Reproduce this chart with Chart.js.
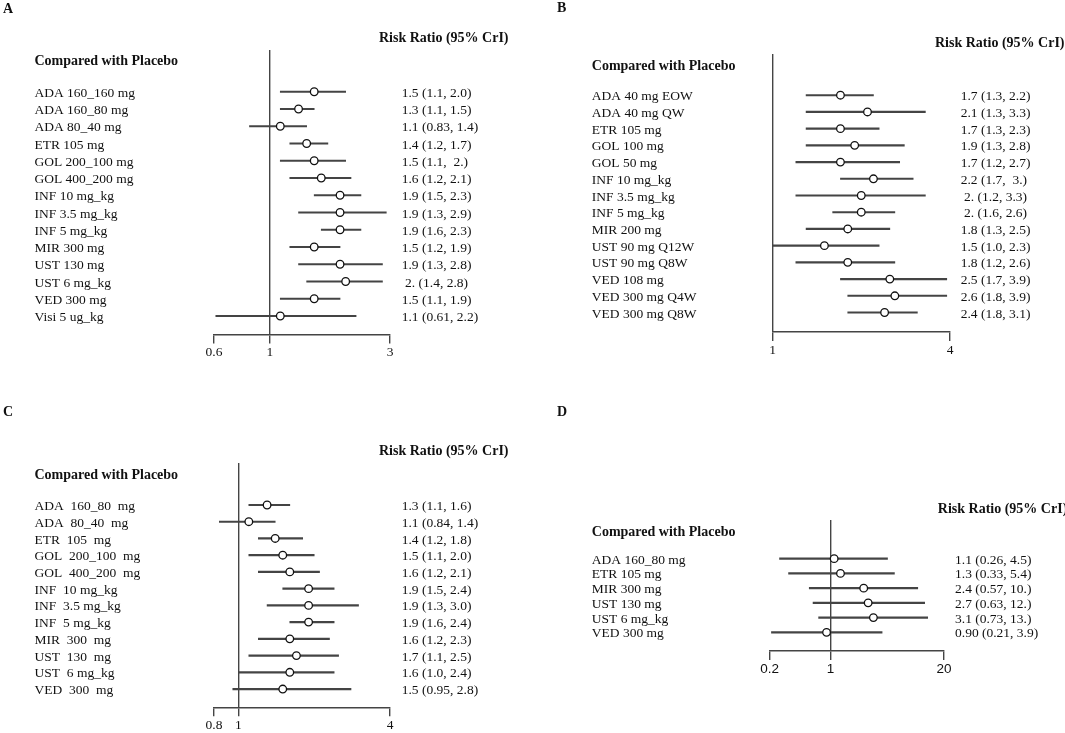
<!DOCTYPE html>
<html>
<head>
<meta charset="utf-8">
<script src="https://cdn.jsdelivr.net/npm/chart.js@4.4.1/dist/chart.umd.min.js"></script>
<style>
  body { margin: 0; background: #fff; }
  #wrap { position: relative; width: 1065px; height: 733px; }
  canvas { position: absolute; }
</style>
</head>
<body>
<div id="wrap">
  <canvas id="chartA" width="530" height="370" style="left:0;top:0"></canvas>
  <canvas id="chartB" width="535" height="370" style="left:530px;top:0"></canvas>
  <canvas id="chartC" width="530" height="363" style="left:0;top:370px"></canvas>
  <canvas id="chartD" width="535" height="363" style="left:530px;top:370px"></canvas>
</div>
<script>
// A
const namesA = ['ADA 160_160 mg', 'ADA 160_80 mg', 'ADA 80_40 mg', 'ETR 105 mg', 'GOL 200_100 mg', 'GOL 400_200 mg',
  'INF 10 mg_kg', 'INF 3.5 mg_kg', 'INF 5 mg_kg', 'MIR 300 mg', 'UST 130 mg', 'UST 6 mg_kg', 'VED 300 mg', 'Visi 5 ug_kg'];
const rrA = [1.5, 1.3, 1.1, 1.4, 1.5, 1.6, 1.9, 1.9, 1.9, 1.5, 1.9, 2.0, 1.5, 1.1];
const loA = [1.1, 1.1, 0.83, 1.2, 1.1, 1.2, 1.5, 1.3, 1.6, 1.2, 1.3, 1.4, 1.1, 0.61];
const hiA = [2.0, 1.5, 1.4, 1.7, 2.0, 2.1, 2.3, 2.9, 2.3, 1.9, 2.8, 2.8, 1.9, 2.2];
const textA = ['1.5 (1.1, 2.0)', '1.3 (1.1, 1.5)', '1.1 (0.83, 1.4)', '1.4 (1.2, 1.7)', '1.5 (1.1,  2.)', '1.6 (1.2, 2.1)',
  '1.9 (1.5, 2.3)', '1.9 (1.3, 2.9)', '1.9 (1.6, 2.3)', '1.5 (1.2, 1.9)', '1.9 (1.3, 2.8)', ' 2. (1.4, 2.8)', '1.5 (1.1, 1.9)', '1.1 (0.61, 2.2)'];
const xTicksA = [0.6, 1, 3];

// B
const namesB = ['ADA 40 mg EOW', 'ADA 40 mg QW', 'ETR 105 mg', 'GOL 100 mg', 'GOL 50 mg', 'INF 10 mg_kg', 'INF 3.5 mg_kg',
  'INF 5 mg_kg', 'MIR 200 mg', 'UST 90 mg Q12W', 'UST 90 mg Q8W', 'VED 108 mg', 'VED 300 mg Q4W', 'VED 300 mg Q8W'];
const rrB = [1.7, 2.1, 1.7, 1.9, 1.7, 2.2, 2.0, 2.0, 1.8, 1.5, 1.8, 2.5, 2.6, 2.4];
const loB = [1.3, 1.3, 1.3, 1.3, 1.2, 1.7, 1.2, 1.6, 1.3, 1.0, 1.2, 1.7, 1.8, 1.8];
const hiB = [2.2, 3.3, 2.3, 2.8, 2.7, 3.0, 3.3, 2.6, 2.5, 2.3, 2.6, 3.9, 3.9, 3.1];
const textB = ['1.7 (1.3, 2.2)', '2.1 (1.3, 3.3)', '1.7 (1.3, 2.3)', '1.9 (1.3, 2.8)', '1.7 (1.2, 2.7)', '2.2 (1.7,  3.)',
  ' 2. (1.2, 3.3)', ' 2. (1.6, 2.6)', '1.8 (1.3, 2.5)', '1.5 (1.0, 2.3)', '1.8 (1.2, 2.6)', '2.5 (1.7, 3.9)', '2.6 (1.8, 3.9)', '2.4 (1.8, 3.1)'];
const xTicksB = [1, 4];

// C
const namesC = ['ADA  160_80  mg', 'ADA  80_40  mg', 'ETR  105  mg', 'GOL  200_100  mg', 'GOL  400_200  mg', 'INF  10 mg_kg',
  'INF  3.5 mg_kg', 'INF  5 mg_kg', 'MIR  300  mg', 'UST  130  mg', 'UST  6 mg_kg', 'VED  300  mg'];
const rrC = [1.3, 1.1, 1.4, 1.5, 1.6, 1.9, 1.9, 1.9, 1.6, 1.7, 1.6, 1.5];
const loC = [1.1, 0.84, 1.2, 1.1, 1.2, 1.5, 1.3, 1.6, 1.2, 1.1, 1.0, 0.95];
const hiC = [1.6, 1.4, 1.8, 2.0, 2.1, 2.4, 3.0, 2.4, 2.3, 2.5, 2.4, 2.8];
const textC = ['1.3 (1.1, 1.6)', '1.1 (0.84, 1.4)', '1.4 (1.2, 1.8)', '1.5 (1.1, 2.0)', '1.6 (1.2, 2.1)', '1.9 (1.5, 2.4)',
  '1.9 (1.3, 3.0)', '1.9 (1.6, 2.4)', '1.6 (1.2, 2.3)', '1.7 (1.1, 2.5)', '1.6 (1.0, 2.4)', '1.5 (0.95, 2.8)'];
const xTicksC = [0.8, 1, 4];

// D
const namesD = ['ADA 160_80 mg', 'ETR 105 mg', 'MIR 300 mg', 'UST 130 mg', 'UST 6 mg_kg', 'VED 300 mg'];
const rrD = [1.1, 1.3, 2.4, 2.7, 3.1, 0.90];
const loD = [0.26, 0.33, 0.57, 0.63, 0.73, 0.21];
const hiD = [4.5, 5.4, 10, 12, 13, 3.9];
const textD = ['1.1 (0.26, 4.5)', '1.3 (0.33, 5.4)', '2.4 (0.57, 10.)', '2.7 (0.63, 12.)', '3.1 (0.73, 13.)', '0.90 (0.21, 3.9)'];
const xTicksD = [0.2, 1, 20];

const SERIF = '"Liberation Serif", "Times New Roman", serif';
const SANS = '"Liberation Sans", Arial, sans-serif';
const INK = '#111';
const LINE = '#444';

// panel letter + the two column headings
function headings(items) {
  return {
    id: 'headings',
    afterDraw(chart) {
      const ctx = chart.ctx;
      ctx.save();
      ctx.fillStyle = INK;
      ctx.textBaseline = 'middle';
      ctx.textAlign = 'left';
      items.forEach(it => {
        ctx.font = 'bold 14px ' + SERIF;
        ctx.fillText(it.text, it.x, it.y);
      });
      ctx.restore();
    }
  };
}

function forest(id, d, lay) {
  const canvas = document.getElementById(id);
  const W = canvas.width, H = canvas.height;
  const n = d.names.length;
  const step = (lay.lastRow - lay.firstRow) / (n - 1);
  const yMin = -(lay.firstRow - lay.top) / step;
  const yMax = (n - 1) + (lay.bottom - lay.lastRow) / step;
  const rowTicks = s => { s.ticks = d.names.map((_, i) => ({ value: i })); };
  const font = { family: SERIF, size: 13.5 };

  new Chart(canvas, {
    type: 'bar',
    data: {
      datasets: [
        {
          type: 'scatter',
          data: d.rr.map((v, i) => ({ x: v, y: i })),
          xAxisID: 'x', yAxisID: 'y',
          pointRadius: 3.8,
          pointBackgroundColor: '#fff',
          pointBorderColor: INK,
          pointBorderWidth: 1.3,
          order: 0
        },
        {
          type: 'bar',
          data: d.lo.map((v, i) => ({ x: [v, d.hi[i]], y: i })),
          xAxisID: 'x', yAxisID: 'y',
          backgroundColor: LINE,
          borderWidth: 0,
          barThickness: 1.5,
          order: 1
        }
      ]
    },
    options: {
      indexAxis: 'y',
      responsive: false,
      animation: false,
      events: [],
      layout: { padding: { left: lay.labelX, top: lay.top, right: 0, bottom: 0 } },
      plugins: { legend: { display: false }, tooltip: { enabled: false } },
      scales: {
        x: {
          type: 'logarithmic',
          min: d.xTicks[0],
          max: d.xTicks[d.xTicks.length - 1],
          bounds: 'data',
          afterBuildTicks: s => { s.ticks = d.xTicks.map(v => ({ value: v })); },
          afterFit: s => { s.height = H - lay.bottom; },
          ticks: {
            callback: v => String(v),
            autoSkip: false,
            maxRotation: 0,
            padding: 1,
            color: INK,
            font: { family: lay.tickFamily, size: 13.5 }
          },
          grid: {
            color: c => (c.tick && c.tick.value === 1 ? LINE : 'rgba(0,0,0,0)'),
            tickColor: LINE,
            tickLength: 9,
            lineWidth: 1.4,
            tickWidth: 1.4
          },
          border: { display: true, color: LINE, width: 1.4 }
        },
        y: {
          type: 'linear',
          reverse: true,
          min: yMin,
          max: yMax,
          bounds: 'data',
          afterBuildTicks: rowTicks,
          afterFit: s => { s.width = lay.left - lay.labelX; },
          ticks: {
            callback: v => d.names[v],
            crossAlign: 'far',
            autoSkip: false,
            labelOffset: 1.5,
            color: INK,
            font: font
          },
          grid: { display: false, drawTicks: false },
          border: { display: false }
        },
        y2: {
          type: 'linear',
          position: 'right',
          reverse: true,
          min: yMin,
          max: yMax,
          bounds: 'data',
          afterBuildTicks: rowTicks,
          afterFit: s => { s.width = W - lay.right; },
          ticks: {
            callback: v => d.text[v],
            padding: lay.textX - lay.right,
            autoSkip: false,
            labelOffset: 1.5,
            color: INK,
            font: font
          },
          grid: { display: false, drawTicks: false },
          border: { display: false }
        }
      }
    },
    plugins: [headings([
      { text: lay.letter, x: lay.letterX, y: lay.letterY },
      { text: 'Compared with Placebo', x: lay.labelX, y: lay.compY },
      { text: 'Risk Ratio (95% CrI)', x: lay.riskX, y: lay.riskY }
    ])]
  });
}

forest('chartA', { names: namesA, rr: rrA, lo: loA, hi: hiA, text: textA, xTicks: xTicksA }, {
  letter: 'A', letterX: 3, letterY: 9, labelX: 34.5, compY: 61.7, riskX: 379, riskY: 38.5,
  left: 214, right: 390, top: 50, bottom: 334.5, firstRow: 84, lastRow: 325.5, textX: 401.7, tickFamily: SERIF
});
forest('chartB', { names: namesB, rr: rrB, lo: loB, hi: hiB, text: textB, xTicks: xTicksB }, {
  letter: 'B', letterX: 27, letterY: 8, labelX: 61.8, compY: 66.5, riskX: 405, riskY: 43.3,
  left: 242.5, right: 420, top: 54, bottom: 332, firstRow: 87.7, lastRow: 321.7, textX: 430.7, tickFamily: SERIF
});
forest('chartC', { names: namesC, rr: rrC, lo: loC, hi: hiC, text: textC, xTicks: xTicksC }, {
  letter: 'C', letterX: 3, letterY: 42.7, labelX: 34.5, compY: 105.3, riskX: 379, riskY: 81.7,
  left: 214, right: 390, top: 93, bottom: 337.3, firstRow: 127.7, lastRow: 328.5, textX: 401.7, tickFamily: SERIF
});
forest('chartD', { names: namesD, rr: rrD, lo: loD, hi: hiD, text: textD, xTicks: xTicksD }, {
  letter: 'D', letterX: 27, letterY: 42.7, labelX: 61.8, compY: 162.3, riskX: 407.8, riskY: 139.3,
  left: 239.6, right: 414, top: 150, bottom: 281, firstRow: 183.3, lastRow: 271.7, textX: 425, tickFamily: SANS
});
</script>
</body>
</html>
